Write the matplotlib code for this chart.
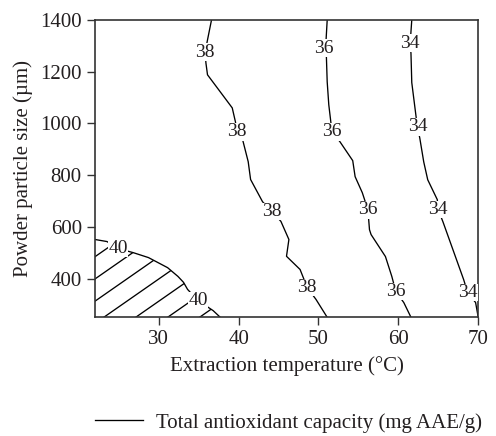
import matplotlib.pyplot as plt
from matplotlib.patches import Polygon
import numpy as np

plt.rcParams['font.family'] = ['Liberation Serif', 'DejaVu Serif']

# contour lines of total antioxidant capacity, traced as (temperature, particle size)
level_40_x = [22.0, 23.5, 24.9, 26.8, 28.7, 31.1, 32.4, 33.1, 33.6, 34.9, 36.8, 37.7]
level_40_y = [551, 543, 516, 500, 481, 442, 408, 385, 358, 315, 276, 250]

level_38_x = [36.6, 36.1, 35.8, 35.9, 36.1, 37.7, 39.2, 39.6, 39.8, 40.5, 41.2, 41.5,
              43.0, 44.2, 45.3, 46.3, 46.0, 47.7, 48.6, 49.7, 51.1]
level_38_y = [1400, 1323, 1276, 1234, 1188, 1122, 1060, 1006, 967, 937, 852, 783,
              697, 659, 621, 551, 486, 435, 365, 319, 250]

level_36_x = [51.1, 50.9, 51.0, 51.1, 51.3, 51.7, 52.7, 54.3, 54.6, 55.5, 56.2, 56.4,
              56.6, 58.4, 59.2, 59.7, 60.7, 61.6]
level_36_y = [1400, 1291, 1257, 1161, 1072, 968, 929, 856, 794, 732, 666, 589,
              570, 485, 408, 350, 307, 250]

level_34_x = [61.7, 61.5, 61.6, 61.7, 62.1, 62.4, 62.7, 63.2, 63.7, 64.9, 65.0, 65.6,
              68.2, 68.7, 69.7, 70.0]
level_34_y = [1400, 1311, 1270, 1158, 1060, 987, 944, 851, 782, 705, 667, 620,
              396, 346, 307, 255]

levels = [40, 38, 36, 34]
lines_x = [level_40_x, level_38_x, level_36_x, level_34_x]
lines_y = [level_40_y, level_38_y, level_36_y, level_34_y]

# where the level value is written on each line
label_x = [[24.9, 34.9], [35.8, 39.8, 44.2, 48.6], [50.7, 51.7, 56.2, 59.7], [61.4, 62.4, 65.0, 68.7]]
label_y = [[516, 315], [1276, 967, 659, 365], [1291, 968, 666, 350], [1311, 987, 667, 346]]

xticks = [30, 40, 50, 60, 70]
yticks = [400, 600, 800, 1000, 1200, 1400]

ink = '#231f20'

fig = plt.figure(figsize=(4.96, 4.36), dpi=100)
ax = fig.add_axes([95 / 496, 1 - 317.3 / 436, 383 / 496, 297.3 / 436])
ax.set_xlim(22, 70)
ax.set_ylim(250, 1400)

for i, lev in enumerate(levels):
    ax.plot(lines_x[i], lines_y[i], color='black', lw=0.95,
            label='Total antioxidant capacity (mg AAE/g)' if i == 0 else None)
    for lx, ly in zip(label_x[i], label_y[i]):
        ax.text(lx, ly, str(lev), ha='center', va='center', fontsize=14, color=ink,
                bbox=dict(fc='white', ec='none', pad=0.3), zorder=4)

# hatched region above the 40 level
region = Polygon(list(zip(level_40_x, level_40_y)) + [(22, 250)], closed=True,
                 fill=False, edgecolor='none')
ax.add_patch(region)
slope = 21.5
for x0 in np.arange(23.1 - 4.0 * 8, 40, 4.0):
    hl, = ax.plot([x0, x0 + 400 / slope], [250, 650], color='black', lw=0.95, zorder=2)
    hl.set_clip_path(region)

ax.set_xticks(xticks)
ax.set_yticks(yticks)
ax.tick_params(direction='out', length=5.5, width=1, color='#333333', labelsize=15,
               labelcolor=ink, pad=4)
for s in ax.spines.values():
    s.set_linewidth(1.2)
    s.set_color('#333333')

ax.set_xlabel('Extraction temperature (°C)', fontsize=15, color=ink, labelpad=5)
ax.set_ylabel('Powder particle size (µm)', fontsize=15, color=ink, labelpad=5)

fig.legend(loc='center left', bbox_to_anchor=(95 / 496, 1 - 422.7 / 436),
           frameon=False, borderaxespad=0, borderpad=0, handlelength=2.3,
           handletextpad=0.65, fontsize=15, labelcolor=ink)

fig.savefig('out.png', dpi=100)
